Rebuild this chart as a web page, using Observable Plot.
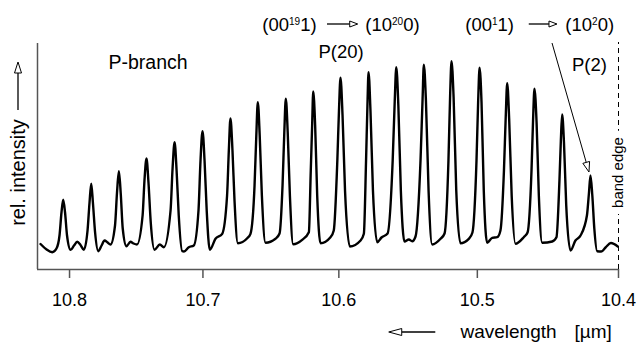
<!DOCTYPE html>
<html>
<head>
<meta charset="utf-8">
<script src="https://cdn.jsdelivr.net/npm/d3@7"></script>
<script src="https://cdn.jsdelivr.net/npm/@observablehq/plot@0.6"></script>
<style>
  html, body { margin: 0; padding: 0; background: #fff; }
  svg { display: block; }
</style>
</head>
<body>
<div id="chart"></div>
<script>
// ---- data ----
// spectrum trace: wavelength [µm] and relative intensity (arbitrary units)
const wavelength = [
  10.8220, 10.8174, 10.8131, 10.8099, 10.8076, 10.8061, 10.8048, 10.8034, 10.8019, 10.7992,
  10.7966, 10.7942, 10.7917, 10.7892, 10.7864, 10.7849, 10.7836, 10.7823, 10.7807, 10.7783,
  10.7758, 10.7736, 10.7713, 10.7691, 10.7657, 10.7642, 10.7628, 10.7614, 10.7599, 10.7571,
  10.7541, 10.7518, 10.7492, 10.7450, 10.7436, 10.7421, 10.7406, 10.7389, 10.7361, 10.7321,
  10.7291, 10.7241, 10.7226, 10.7211, 10.7196, 10.7180, 10.7154, 10.7141, 10.7105, 10.7068,
  10.7033, 10.7018, 10.7003, 10.6988, 10.6972, 10.6949, 10.6907, 10.6857, 10.6821, 10.6808,
  10.6796, 10.6781, 10.6766, 10.6741, 10.6672, 10.6648, 10.6618, 10.6605, 10.6594, 10.6580,
  10.6564, 10.6537, 10.6464, 10.6434, 10.6412, 10.6399, 10.6388, 10.6374, 10.6358, 10.6334,
  10.6268, 10.6219, 10.6205, 10.6195, 10.6187, 10.6173, 10.6158, 10.6134, 10.6061, 10.6037,
  10.6011, 10.5999, 10.5988, 10.5973, 10.5955, 10.5920, 10.5842, 10.5818, 10.5802, 10.5792,
  10.5784, 10.5770, 10.5752, 10.5721, 10.5690, 10.5646, 10.5609, 10.5594, 10.5583, 10.5568,
  10.5550, 10.5524, 10.5492, 10.5468, 10.5444, 10.5408, 10.5393, 10.5384, 10.5369, 10.5350,
  10.5324, 10.5264, 10.5235, 10.5207, 10.5195, 10.5185, 10.5170, 10.5151, 10.5121, 10.5061,
  10.5035, 10.5006, 10.4994, 10.4984, 10.4970, 10.4954, 10.4930, 10.4894, 10.4858, 10.4835,
  10.4810, 10.4797, 10.4787, 10.4773, 10.4755, 10.4728, 10.4669, 10.4642, 10.4614, 10.4603,
  10.4593, 10.4578, 10.4562, 10.4538, 10.4467, 10.4437, 10.4416, 10.4406, 10.4397, 10.4384,
  10.4368, 10.4338, 10.4303, 10.4267, 10.4222, 10.4208, 10.4197, 10.4184, 10.4170, 10.4150,
  10.4121, 10.4091, 10.4053, 10.4005
];
const intensity = [
  25.5, 20, 17.3, 21, 34, 57, 69.7, 57, 34, 19.7,
  24, 27.7, 24.5, 19.7, 39, 67, 85.7, 66, 37, 18.3,
  24, 29, 27, 25, 44, 77, 98.3, 76, 41, 23.3,
  27.7, 26, 25, 54, 89, 111, 87, 47, 19.7, 25,
  22.3, 59, 101, 127.3, 99, 54, 18.3, 18, 22.3, 24,
  59, 109, 138.3, 109, 59, 19.7, 30.7, 35.7, 74, 119,
  151, 119, 69, 26.3, 31.3, 35.7, 84, 134, 167.3, 134,
  74, 26.7, 30.7, 36, 84, 137, 170.7, 137, 74, 25.3,
  29.7, 37.3, 99, 144, 178, 144, 74, 26.3, 32.3, 39,
  109, 159, 191.7, 154, 79, 23, 29, 35.7, 109, 164,
  197.3, 159, 79, 27.3, 32, 36, 109, 169, 202.3, 164,
  79, 28, 30, 28.3, 33, 109, 171, 204.7, 169, 79,
  25, 30.7, 36, 109, 174, 208.3, 172, 79, 26.3, 30.7,
  37, 109, 169, 201.7, 167, 79, 26.7, 31.7, 32.3, 39,
  99, 154, 186.3, 151, 74, 25.7, 32.3, 37, 99, 149,
  180.7, 147, 74, 26.7, 28, 32.3, 89, 129, 155, 127,
  64, 19, 29, 34, 54, 76, 94, 74, 41, 18.3,
  18, 22, 26.5, 23
];
// axis
const tickValues = [10.8, 10.7, 10.6, 10.5, 10.4];
const xDomain = [10.8243, 10.4];       // µm, left to right
const yDomain = [0, 226];               // relative intensity
const bandEdge = 10.4;                  // µm
// labels
const labelPBranch = "P-branch";
const labelP20 = "P(20)";
const labelP2 = "P(2)";
const labelBandEdge = "band edge";
const labelY = "rel. intensity";
const labelX = "wavelength";
const labelUnit = "[µm]";
// transitions: [before, superscript, after]
const transitionP20 = [["(00", "19", "1)"], ["(10", "20", "0)"]];
const transitionP2 = [["(00", "1", "1)"], ["(10", "2", "0)"]];

// the wavelength axis of the original is linear in wavenumber (cm^-1)
const nu = w => 1e4 / w;
const points = wavelength.map((w, i) => ({w, v: intensity[i]}));
const FONT = "'Liberation Sans', Arial, Helvetica, sans-serif";

const plot = Plot.plot({
  width: 637,
  height: 343,
  marginLeft: 37,
  marginRight: 19,
  marginTop: 43,
  marginBottom: 74,
  style: {fontFamily: FONT, fontSize: "18px", color: "#000", background: "#fff", overflow: "visible"},
  x: {
    domain: xDomain.map(nu),
    ticks: tickValues.map(nu),
    tickFormat: d => (1e4 / d).toFixed(1),
    tickSize: 9,
    tickPadding: 15,
    label: null
  },
  y: {domain: yDomain, axis: null},
  marks: [
    Plot.ruleY([yDomain[0]], {x1: nu(xDomain[0]), x2: nu(xDomain[1]), stroke: "#555", strokeWidth: 1.5}),
    Plot.ruleX([xDomain[0]], {x: nu, y1: yDomain[0], y2: yDomain[1], stroke: "#555", strokeWidth: 1.5}),
    Plot.ruleX([bandEdge], {x: nu, y1: yDomain[0], y2: yDomain[1] + 1, stroke: "#000", strokeWidth: 1, strokeDasharray: "5,4"}),
    Plot.text([labelBandEdge], {x: nu(bandEdge), y: 97, text: d => d, rotate: -90, fontSize: 15,
      textAnchor: "middle", fill: "#000", stroke: "#fff", strokeWidth: 14, paintOrder: "stroke"}),
    Plot.line(points, {x: d => nu(d.w), y: "v", curve: "monotone-x", stroke: "#000", strokeWidth: 2.4}),
    Plot.text([labelPBranch], {x: nu(10.7706), y: 201, text: d => d, textAnchor: "start", lineAnchor: "bottom", fontSize: 19.5, fill: "#000"}),
    Plot.text([labelP20], {x: nu(10.5984), y: 212, text: d => d, textAnchor: "middle", lineAnchor: "bottom", fontSize: 18.5, fill: "#000"}),
    Plot.text([labelP2], {x: nu(10.4204), y: 199, text: d => d, textAnchor: "middle", lineAnchor: "bottom", fontSize: 18.5, fill: "#000"}),
    Plot.text([labelY], {frameAnchor: "left", dx: -19, y: 97, text: d => d, rotate: -90, textAnchor: "middle", lineAnchor: "middle", fontSize: 20, fill: "#000"}),
    Plot.text([labelX], {x: nu(10.5121), y: -68, text: d => d, textAnchor: "start", lineAnchor: "bottom", fontSize: 19, fill: "#000"}),
    Plot.text([labelUnit], {x: nu(10.4310), y: -68, text: d => d, textAnchor: "start", lineAnchor: "bottom", fontSize: 19, fill: "#000"})
  ]
});

// tick colour like the reference
d3.select(plot).selectAll('g[aria-label="x-axis tick"] path').attr("stroke", "#555").attr("stroke-width", 1.5);

// ---- annotations placed through the plot's own scales ----
const sx = plot.scale("x"), sy = plot.scale("y");
const X = w => sx.apply(nu(w));
const Y = v => sy.apply(v);
const g = d3.select(plot).append("g")
  .attr("font-family", FONT).attr("fill", "#000").attr("text-anchor", "start");

function chem(w, v, parts) {
  const t = g.append("text").attr("x", X(w)).attr("y", Y(v)).attr("font-size", 18.5).attr("text-anchor", "start");
  t.append("tspan").text(parts[0]);
  t.append("tspan").attr("dy", -6).attr("font-size", 10).text(parts[1]);
  t.append("tspan").attr("dy", 6).attr("font-size", 18.5).text(parts[2]);
}
function openArrow(x1, y1, x2, y2, len, half, sw) {
  const dx = x2 - x1, dy = y2 - y1, L = Math.hypot(dx, dy);
  const ux = dx / L, uy = dy / L;
  const bx = x2 - ux * len, by = y2 - uy * len;
  g.append("line").attr("x1", x1).attr("y1", y1).attr("x2", bx).attr("y2", by)
    .attr("stroke", "#000").attr("stroke-width", sw);
  g.append("path")
    .attr("d", `M${x2},${y2}L${bx - uy * half},${by + ux * half}L${bx + uy * half},${by - ux * half}Z`)
    .attr("fill", "#fff").attr("stroke", "#000").attr("stroke-width", 1);
}

chem(10.6557, 238, transitionP20[0]);
openArrow(X(10.6083), Y(245), X(10.5859), Y(245), 8, 3, 1.3);
chem(10.5804, 238, transitionP20[1]);
chem(10.5083, 238, transitionP2[0]);
openArrow(X(10.4630), Y(245), X(10.4430), Y(245), 8, 3, 1.3);
chem(10.4371, 238, transitionP2[1]);

// arrow pointing at the P(2) line
openArrow(X(10.4465), Y(226), X(10.4204), Y(97), 10, 3.5, 1);
// y-axis arrow
const xl = X(xDomain[0]) - 19;
openArrow(xl, Y(159), xl, Y(207), 11, 3.5, 1.3);
// x-axis arrow
openArrow(X(10.5298), Y(-63), X(10.5634), Y(-63), 13, 3.5, 1.3);

document.getElementById("chart").appendChild(plot);
</script>
</body>
</html>
